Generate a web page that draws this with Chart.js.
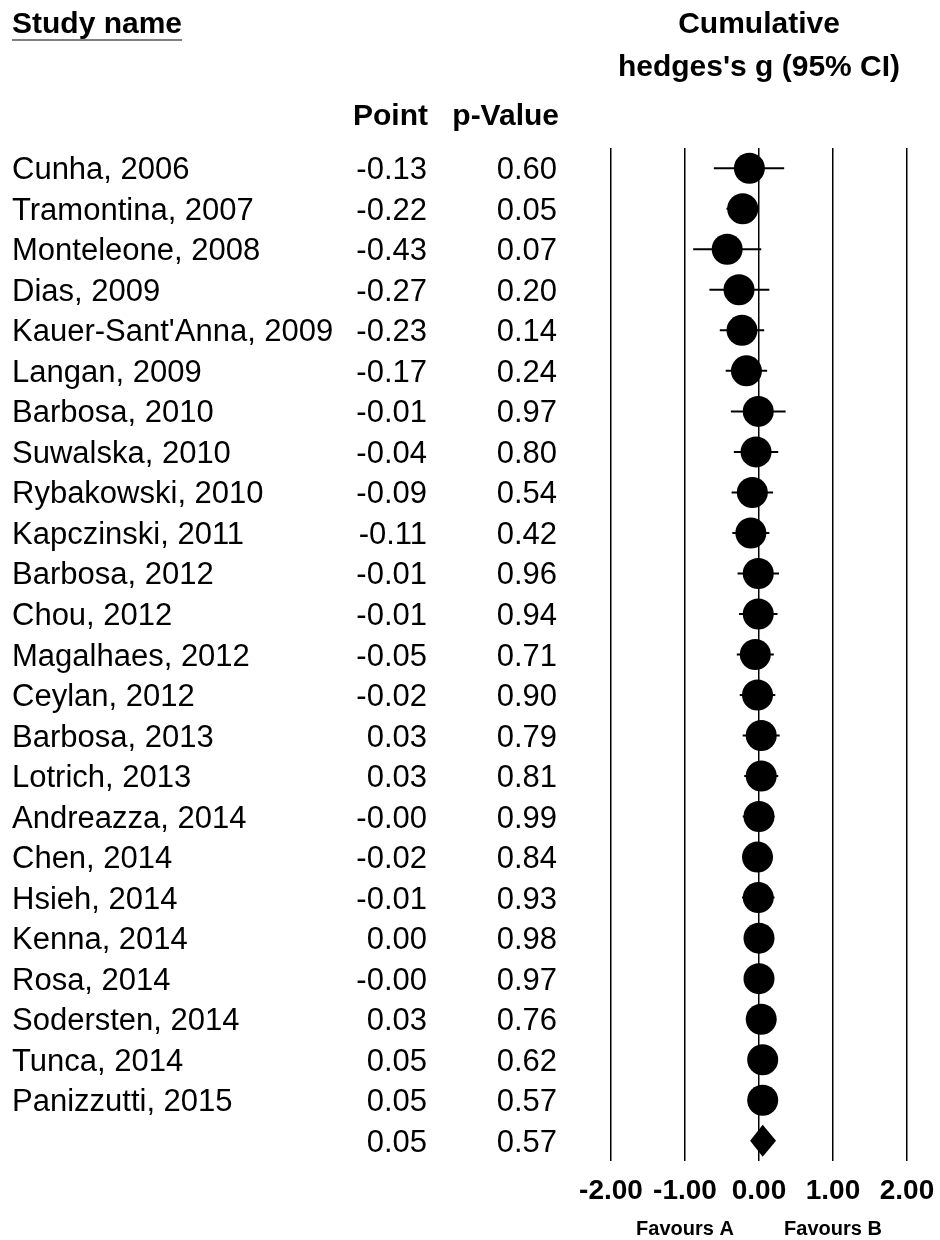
<!DOCTYPE html>
<html>
<head>
<meta charset="utf-8">
<script src="https://cdn.jsdelivr.net/npm/chart.js@4.4.1/dist/chart.umd.min.js"></script>
<style>
  html, body { margin: 0; padding: 0; background: #fff; }
  #wrap { width: 940px; height: 1240px; position: relative; }
</style>
</head>
<body>
<div id="wrap"><canvas id="forest"></canvas></div>
<script>
// study rows, top to bottom
const studies = ['Cunha, 2006', 'Tramontina, 2007', 'Monteleone, 2008', 'Dias, 2009',
  "Kauer-Sant'Anna, 2009", 'Langan, 2009', 'Barbosa, 2010', 'Suwalska, 2010',
  'Rybakowski, 2010', 'Kapczinski, 2011', 'Barbosa, 2012', 'Chou, 2012',
  'Magalhaes, 2012', 'Ceylan, 2012', 'Barbosa, 2013', 'Lotrich, 2013',
  'Andreazza, 2014', 'Chen, 2014', 'Hsieh, 2014', 'Kenna, 2014', 'Rosa, 2014',
  'Sodersten, 2014', 'Tunca, 2014', 'Panizzutti, 2015'];
const pointText = ['-0.13', '-0.22', '-0.43', '-0.27', '-0.23', '-0.17', '-0.01', '-0.04',
  '-0.09', '-0.11', '-0.01', '-0.01', '-0.05', '-0.02', '0.03', '0.03', '-0.00', '-0.02',
  '-0.01', '0.00', '-0.00', '0.03', '0.05', '0.05'];
const pValues = ['0.60', '0.05', '0.07', '0.20', '0.14', '0.24', '0.97', '0.80', '0.54',
  '0.42', '0.96', '0.94', '0.71', '0.90', '0.79', '0.81', '0.99', '0.84', '0.93', '0.98',
  '0.97', '0.76', '0.62', '0.57'];
const lower = [-0.61, -0.44, -0.89, -0.67, -0.53, -0.45, -0.38, -0.34, -0.37, -0.36, -0.29,
  -0.27, -0.30, -0.26, -0.22, -0.20, -0.22, -0.22, -0.23, -0.20, -0.20, -0.16, -0.15, -0.12];
const upper = [0.34, 0.00, 0.03, 0.14, 0.07, 0.11, 0.36, 0.26, 0.19, 0.14, 0.27, 0.25, 0.20,
  0.22, 0.28, 0.26, 0.21, 0.18, 0.21, 0.20, 0.20, 0.22, 0.25, 0.22];

// overall (last row)
const summaryText = '0.05';
const summaryP = '0.57';
const summaryLower = -0.12;
const summaryUpper = 0.23;

const xTicks = [-2, -1, 0, 1, 2];

const FONT = '"Liberation Sans", Arial, Helvetica, sans-serif';
const points = pointText.map(Number);
const nRows = studies.length + 1;

const forestPlugin = {
  id: 'forest',
  beforeDatasetsDraw(chart) {
    const ctx = chart.ctx, xs = chart.scales.x, ys = chart.scales.y;
    ctx.save();
    ctx.strokeStyle = '#000';
    ctx.lineWidth = 2;
    for (let i = 0; i < studies.length; i++) {
      const y = ys.getPixelForValue(i);
      ctx.beginPath();
      ctx.moveTo(xs.getPixelForValue(lower[i]), y);
      ctx.lineTo(xs.getPixelForValue(upper[i]), y);
      ctx.stroke();
    }
    ctx.restore();
  },
  afterDatasetsDraw(chart) {
    const ctx = chart.ctx, xs = chart.scales.x, ys = chart.scales.y;
    const y = ys.getPixelForValue(studies.length);
    const xl = xs.getPixelForValue(summaryLower);
    const xm = xs.getPixelForValue(Number(summaryText));
    const xr = xs.getPixelForValue(summaryUpper);
    ctx.save();
    ctx.fillStyle = '#000';
    ctx.beginPath();
    ctx.moveTo(xl, y);
    ctx.lineTo(xm, y - 16);
    ctx.lineTo(xr, y);
    ctx.lineTo(xm, y + 16);
    ctx.closePath();
    ctx.fill();
    ctx.restore();
  },
  afterDraw(chart) {
    const ctx = chart.ctx, xs = chart.scales.x, ys = chart.scales.y;
    const mid = (chart.chartArea.left + chart.chartArea.right) / 2;
    ctx.save();
    ctx.fillStyle = '#000';
    ctx.textBaseline = 'alphabetic';

    // headers
    ctx.font = 'bold 30px ' + FONT;
    ctx.textAlign = 'left';
    ctx.fillText('Study name', 12, 33);
    const w = ctx.measureText('Study name').width;
    ctx.fillStyle = '#808080';
    ctx.fillRect(12, 39, w, 2);
    ctx.fillStyle = '#000';
    ctx.textAlign = 'center';
    ctx.fillText('Cumulative', mid, 33);
    ctx.fillText("hedges's g (95% CI)", mid, 76);
    ctx.textAlign = 'right';
    ctx.fillText('Point', 428, 125);
    ctx.fillText('p-Value', 559, 125);

    // rows
    ctx.font = '31px ' + FONT;
    for (let i = 0; i < nRows; i++) {
      const y = ys.getPixelForValue(i) + 11;
      const isSum = i === studies.length;
      if (!isSum) {
        ctx.textAlign = 'left';
        ctx.fillText(studies[i], 12, y);
      }
      ctx.textAlign = 'right';
      ctx.fillText(isSum ? summaryText : pointText[i], 427, y);
      ctx.fillText(isSum ? summaryP : pValues[i], 557, y);
    }

    // favours labels
    ctx.font = 'bold 20px ' + FONT;
    ctx.textAlign = 'center';
    ctx.fillText('Favours A', xs.getPixelForValue(-1), 1235);
    ctx.fillText('Favours B', xs.getPixelForValue(1), 1235);
    ctx.restore();
  }
};

new Chart(document.getElementById('forest'), {
  type: 'scatter',
  data: {
    datasets: [{
      data: points.map((v, i) => ({ x: v, y: i })),
      backgroundColor: '#000',
      borderColor: '#000',
      pointRadius: 15.5,
      pointHoverRadius: 15.5,
      borderWidth: 0,
      clip: false
    }]
  },
  options: {
    responsive: true,
    maintainAspectRatio: false,
    animation: false,
    events: [],
    layout: { padding: { left: 611, right: 33, top: 148, bottom: 0 } },
    plugins: { legend: { display: false }, tooltip: { enabled: false } },
    scales: {
      x: {
        type: 'linear',
        min: -2,
        max: 2,
        afterBuildTicks(scale) { scale.ticks = xTicks.map(v => ({ value: v })); },
        afterFit(scale) {
          scale.height = 79;
          scale.paddingLeft = 0;
          scale.paddingRight = 0;
        },
        border: { display: false },
        grid: { color: '#000', lineWidth: 1.5, drawTicks: false },
        ticks: {
          color: '#000',
          padding: 13,
          maxRotation: 0,
          autoSkip: false,
          font: { family: FONT, size: 28, weight: 'bold' },
          callback: v => v.toFixed(2)
        }
      },
      y: {
        type: 'linear',
        display: false,
        reverse: true,
        min: -0.5,
        max: nRows - 0.5
      }
    }
  },
  plugins: [forestPlugin]
});
</script>
</body>
</html>
